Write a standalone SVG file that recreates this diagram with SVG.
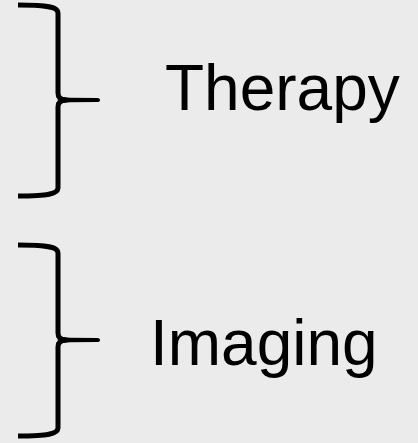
<svg xmlns="http://www.w3.org/2000/svg" width="418" height="443" viewBox="0 0 418 443">
  <style>
    .brace { fill: none; stroke: #000; stroke-width: 5; stroke-linecap: butt; stroke-linejoin: round; }
    .tip { fill: #000; }
    .label { font-family: "Liberation Sans", Arial, sans-serif; font-size: 64px; fill: #000; }
  </style>
  <defs>
    <g id="brace-shape">
      <path class="brace" d="M18,0 C48,0 58,2 58,8 V88 Q58,95 66,95 M66,95 Q58,95 58,102 V183 C58,189 48,191 18,191"/>
      <path class="tip" d="M60,91.5 Q66,92.5 70,92.8 L97,93 Q100,93 100,95 Q100,97 97,97 L70,97.2 Q66,97.5 60,98.5 Z"/>
    </g>
  </defs>
  <rect width="418" height="443" fill="#ebebeb"/>
  <g id="therapy">
    <use href="#brace-shape" transform="translate(0,5)"/>
    <text class="label" x="165" y="110">Therapy</text>
  </g>
  <g id="imaging">
    <use href="#brace-shape" transform="translate(0,245)"/>
    <text class="label" x="150" y="365">Imaging</text>
  </g>
</svg>
